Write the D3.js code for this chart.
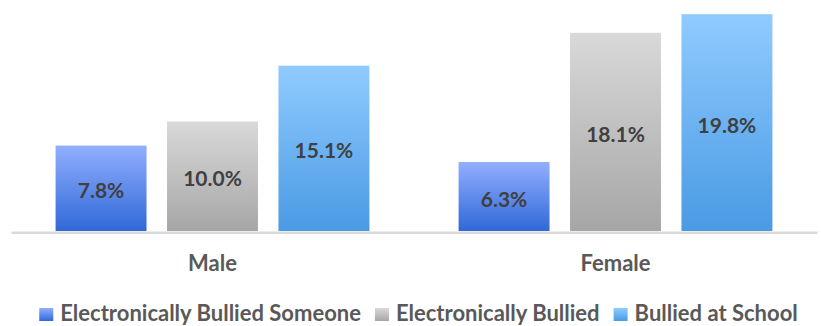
<!DOCTYPE html>
<html>
<head>
<meta charset="utf-8">
<script src="https://cdn.jsdelivr.net/npm/d3@7"></script>
<style>
  html, body { margin: 0; padding: 0; background: #ffffff; }
  svg { display: block; }
  text { font-family: Lato, "Open Sans", sans-serif; font-weight: 700; }
</style>
</head>
<body>
<svg id="chart" width="821" height="326"></svg>
<script>
// Share of students (%) by sex
const categories = ["Male", "Female"];
const seriesNames = ["Electronically Bullied Someone", "Electronically Bullied", "Bullied at School"];
const electronicallyBulliedSomeone = [7.8, 6.3];
const electronicallyBullied = [10.0, 18.1];
const bulliedAtSchool = [15.1, 19.8];
const seriesValues = [electronicallyBulliedSomeone, electronicallyBullied, bulliedAtSchool];

// top / bottom gradient stops for each series
const seriesColors = [
  ["#92aefe", "#2f69d8"],
  ["#d9d9d9", "#a6a6a6"],
  ["#90cbff", "#4a9ae4"]
];

const W = 821, H = 326;
const baseY = 231;
const svg = d3.select("#chart");

const defs = svg.append("defs");
seriesColors.forEach((c, i) => {
  const g = defs.append("linearGradient")
    .attr("id", "grad" + i)
    .attr("x1", 0).attr("y1", 0).attr("x2", 0).attr("y2", 1);
  g.append("stop").attr("offset", "0%").attr("stop-color", c[0]);
  g.append("stop").attr("offset", "100%").attr("stop-color", c[1]);
});

const x0 = d3.scaleBand().domain(categories).range([11, 817]).paddingInner(0).paddingOuter(0);
const x1 = d3.scaleBand().domain(d3.range(seriesNames.length))
  .range([0, x0.bandwidth()]).paddingInner(0.184).paddingOuter(0.4);
const y = d3.scaleLinear().domain([0, 20]).range([baseY, 12]);

const rows = [];
categories.forEach((cat, ci) => {
  seriesValues.forEach((vals, si) => rows.push({ cat, si, v: vals[ci] }));
});

// bars
svg.append("g").selectAll("rect").data(rows).join("rect")
  .attr("x", d => x0(d.cat) + x1(d.si))
  .attr("y", d => y(d.v))
  .attr("width", x1.bandwidth())
  .attr("height", d => y(0) - y(d.v))
  .attr("fill", d => `url(#grad${d.si})`);

// value labels, centred in each bar
svg.append("g").selectAll("text").data(rows).join("text")
  .attr("transform", d => `translate(${x0(d.cat) + x1(d.si) + x1.bandwidth() / 2},${(y(d.v) + y(0)) / 2 + 2.5})`)
  .attr("text-anchor", "middle")
  .attr("dy", "0.36em")
  .attr("font-size", 21)
  .attr("fill", "#404040")
  .text(d => d.v.toFixed(1) + "%");

// category axis
const axis = svg.append("g")
  .attr("transform", `translate(0,${baseY + 1.2})`)
  .call(d3.axisBottom(x0).tickSize(0).tickPadding(23));
axis.select(".domain").attr("stroke", "#d9d9d9").attr("stroke-width", 2.5);
axis.selectAll(".tick text")
  .attr("font-size", 22)
  .attr("font-family", "Lato, 'Open Sans', sans-serif")
  .attr("font-weight", 700)
  .attr("fill", "#595959");

// legend
const legend = svg.append("g").attr("transform", "translate(0,321)");
const items = legend.selectAll("g").data(seriesNames).join("g");
items.append("rect")
  .attr("y", -13).attr("width", 14).attr("height", 13)
  .attr("fill", (d, i) => `url(#grad${i})`);
items.append("text")
  .attr("x", 21)
  .attr("font-size", 22)
  .attr("fill", "#595959")
  .text(d => d);
let cx = 0;
const offsets = [];
items.each(function () {
  offsets.push(cx);
  cx += 21 + this.querySelector("text").getComputedTextLength() + 14;
});
const total = cx - 14;
const start = (W - total) / 2 + 8;
items.attr("transform", (d, i) => `translate(${start + offsets[i]},0)`);
</script>
</body>
</html>
